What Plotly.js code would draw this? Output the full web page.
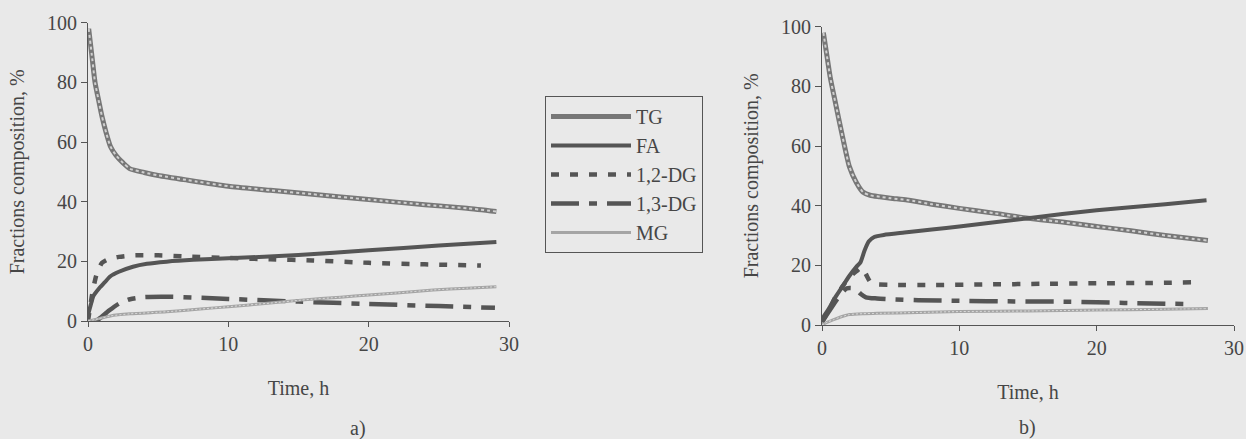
<!DOCTYPE html>
<html>
<head>
<meta charset="utf-8">
<script src="https://cdn.plot.ly/plotly-3.0.1.min.js"></script>
<style>
html,body{margin:0;padding:0;background:#e9e9e9;}
#chart{width:1246px;height:439px;}
</style>
</head>
<body>
<div id="chart"></div>
<script>
// ---- Panel a) ----
const tgA_t = [0.05, 0.3, 0.5, 0.8, 1.0, 1.3, 1.6, 2.0, 2.5, 3.0, 4.0, 5, 7, 10, 13, 16, 20, 24, 27, 29.1];
const tgA_v = [98, 88, 80, 73, 68.5, 63, 58.5, 55.5, 53, 51, 49.8, 48.8, 47.3, 45.2, 43.8, 42.5, 40.7, 39, 37.8, 36.7];
const faA_t = [0, 0.2, 0.4, 0.8, 1.2, 1.6, 2.2, 3.2, 4.2, 5.6, 7.5, 10, 15, 20, 25, 29.1];
const faA_v = [2, 5.5, 8.5, 11, 13, 15, 16.5, 18.2, 19.2, 19.9, 20.5, 21, 22.1, 23.7, 25.3, 26.5];
const dg12A_t = [0, 0.3, 0.6, 1.0, 1.5, 2.2, 3.2, 5, 7, 10, 13, 16, 20, 24, 28];
const dg12A_v = [0, 9, 15.5, 19.5, 20.8, 21.5, 22, 22, 21.6, 21.1, 20.7, 20.3, 19.5, 19, 18.6];
const dg13A_t = [0.6, 1.0, 1.5, 2.2, 3.0, 4, 6, 10, 15, 20, 25, 29];
const dg13A_v = [0, 1.5, 3.5, 5.8, 7.3, 8, 8.1, 7.4, 6.5, 5.7, 5, 4.4];
const mgA_t = [0, 0.8, 1.6, 3, 5.6, 8, 10, 13, 15.2, 18, 20, 22, 24.6, 27, 29.1];
const mgA_v = [0, 0.8, 1.7, 2.4, 3.1, 4, 4.8, 6, 7, 8, 8.7, 9.4, 10.4, 11, 11.5];

// ---- Panel b) ----
const tgB_t = [0.1, 0.3, 0.6, 1.0, 1.5, 2.0, 2.5, 3.0, 3.5, 4.2, 5, 6.2, 8, 10, 12.5, 15, 17.5, 20, 22.5, 25, 28.1];
const tgB_v = [98, 92, 83, 74, 63, 53, 47.8, 44.5, 43.5, 43, 42.5, 41.9, 40.5, 39.1, 37.5, 35.8, 34.5, 33, 31.6, 30, 28.3];
const faB_t = [0, 0.5, 1.0, 1.5, 2.0, 2.5, 2.8, 3.1, 3.4, 3.8, 4.5, 6, 8, 10, 15, 20, 25, 28];
const faB_v = [2, 5.5, 9.5, 13, 16.5, 19.5, 21, 25, 28, 29.5, 30.2, 31, 32, 33, 35.8, 38.5, 40.5, 41.8];
const dg12B_t = [0, 0.5, 1.0, 1.5, 2.0, 2.5, 2.9, 3.2, 3.6, 5, 8, 12, 16, 20, 24, 27];
const dg12B_v = [1, 5, 9.5, 13, 16, 18, 19.3, 17, 14, 13.5, 13.4, 13.6, 13.8, 14, 14.1, 14.3];
const dg13B_t = [0, 0.5, 1.0, 1.4, 1.8, 2.4, 2.8, 3.2, 4, 5.2, 7, 10, 14, 18, 22, 27];
const dg13B_v = [1, 4.5, 8, 10.5, 12.3, 12.2, 10.5, 9.3, 8.9, 8.6, 8.3, 8.1, 7.9, 7.8, 7.4, 7.0];
const mgB_t = [0, 0.4, 0.8, 1.3, 2.0, 3, 4, 7, 10, 15, 20, 25, 28.1];
const mgB_v = [0, 1, 1.7, 2.6, 3.5, 3.8, 3.9, 4.2, 4.5, 4.7, 5.0, 5.3, 5.5];

const seriesNames = ['TG', 'FA', '1,2-DG', '1,3-DG', 'MG'];
const xTicks = [0, 10, 20, 30];
const yTicks = [0, 20, 40, 60, 80, 100];
const xTitle = 'Time, h';
const yTitle = 'Fractions composition, %';
const panelLabels = ['a)', 'b)'];

const FONT = 'Liberation Serif, Times New Roman, serif';
const TXT = '#464646';
const FS = 20;

const styles = {
  'TG':     {base: {color: '#777777', width: 5}, over: {color: '#d0d0d0', width: 2, dash: 'dot'}},
  'FA':     {base: {color: '#555555', width: 4}},
  '1,2-DG': {base: {color: '#555555', width: 4.5, dash: '8px,11px'}},
  '1,3-DG': {base: {color: '#555555', width: 4.5, dash: '28px,10px,8px,10px'}},
  'MG':     {base: {color: '#a5a5a5', width: 3}, over: {color: '#dadada', width: 1, dash: '2px,2px'}}
};

const panels = [
  {xa: 'x', ya: 'y', data: [[tgA_t, tgA_v], [faA_t, faA_v], [dg12A_t, dg12A_v], [dg13A_t, dg13A_v], [mgA_t, mgA_v]], legend: true},
  {xa: 'x2', ya: 'y2', data: [[tgB_t, tgB_v], [faB_t, faB_v], [dg12B_t, dg12B_v], [dg13B_t, dg13B_v], [mgB_t, mgB_v]], legend: false}
];

const traces = [];
panels.forEach(p => {
  p.data.forEach((d, i) => {
    const name = seriesNames[i];
    const st = styles[name];
    traces.push({
      x: d[0], y: d[1], xaxis: p.xa, yaxis: p.ya, type: 'scatter', mode: 'lines',
      name: name, legendgroup: name, showlegend: p.legend,
      line: Object.assign({shape: 'spline', smoothing: 0.6}, st.base), hoverinfo: 'skip'
    });
    if (st.over) {
      traces.push({
        x: d[0], y: d[1], xaxis: p.xa, yaxis: p.ya, type: 'scatter', mode: 'lines',
        name: name, legendgroup: name, showlegend: false,
        line: Object.assign({shape: 'spline', smoothing: 0.6}, st.over), hoverinfo: 'skip'
      });
    }
  });
});

const W = 1246, H = 439;
function xAxis(domain) {
  return {
    domain: domain, range: [0, 30], tickvals: xTicks, ticktext: xTicks.map(String),
    showgrid: false, zeroline: false, showline: true, linecolor: '#555', linewidth: 1,
    ticks: 'outside', ticklen: 5, tickcolor: '#555',
    tickfont: {family: FONT, size: FS, color: TXT},
    title: {text: xTitle, font: {family: FONT, size: FS, color: TXT}, standoff: 26},
    fixedrange: true
  };
}
function yAxis(domain, anchor) {
  return {
    domain: domain, range: [0, 100], tickvals: yTicks, ticktext: yTicks.map(String),
    anchor: anchor,
    showgrid: false, zeroline: false, showline: true, linecolor: '#555', linewidth: 1,
    ticks: 'outside', ticklen: 6, tickcolor: '#555',
    tickfont: {family: FONT, size: FS, color: TXT},
    title: {text: yTitle, font: {family: FONT, size: FS, color: TXT}, standoff: 16},
    fixedrange: true
  };
}

const layout = {
  width: W, height: H,
  margin: {l: 0, r: 0, t: 0, b: 0},
  paper_bgcolor: '#e9e9e9', plot_bgcolor: 'rgba(0,0,0,0)',
  showlegend: true,
  xaxis: Object.assign(xAxis([88 / W, 509 / W]), {anchor: 'y'}),
  yaxis: yAxis([(H - 321) / H, (H - 22.7) / H], 'x'),
  xaxis2: Object.assign(xAxis([822 / W, 1234 / W]), {anchor: 'y2'}),
  yaxis2: yAxis([(H - 325) / H, (H - 26.7) / H], 'x2'),
  legend: {
    x: 545 / W, y: (H - 96) / H, xanchor: 'left', yanchor: 'top',
    bgcolor: 'rgba(0,0,0,0)', bordercolor: '#555', borderwidth: 1,
    font: {family: FONT, size: FS, color: TXT},
    itemwidth: 80, tracegroupgap: 0
  },
  annotations: [
    {text: panelLabels[0], xref: 'paper', yref: 'paper', x: 358 / W, y: (H - 428) / H,
     xanchor: 'center', yanchor: 'middle', showarrow: false, font: {family: FONT, size: FS, color: TXT}},
    {text: panelLabels[1], xref: 'paper', yref: 'paper', x: 1027 / W, y: (H - 427) / H,
     xanchor: 'center', yanchor: 'middle', showarrow: false, font: {family: FONT, size: FS, color: TXT}}
  ]
};

Plotly.newPlot('chart', traces, layout, {displayModeBar: false, staticPlot: true});
</script>
</body>
</html>
